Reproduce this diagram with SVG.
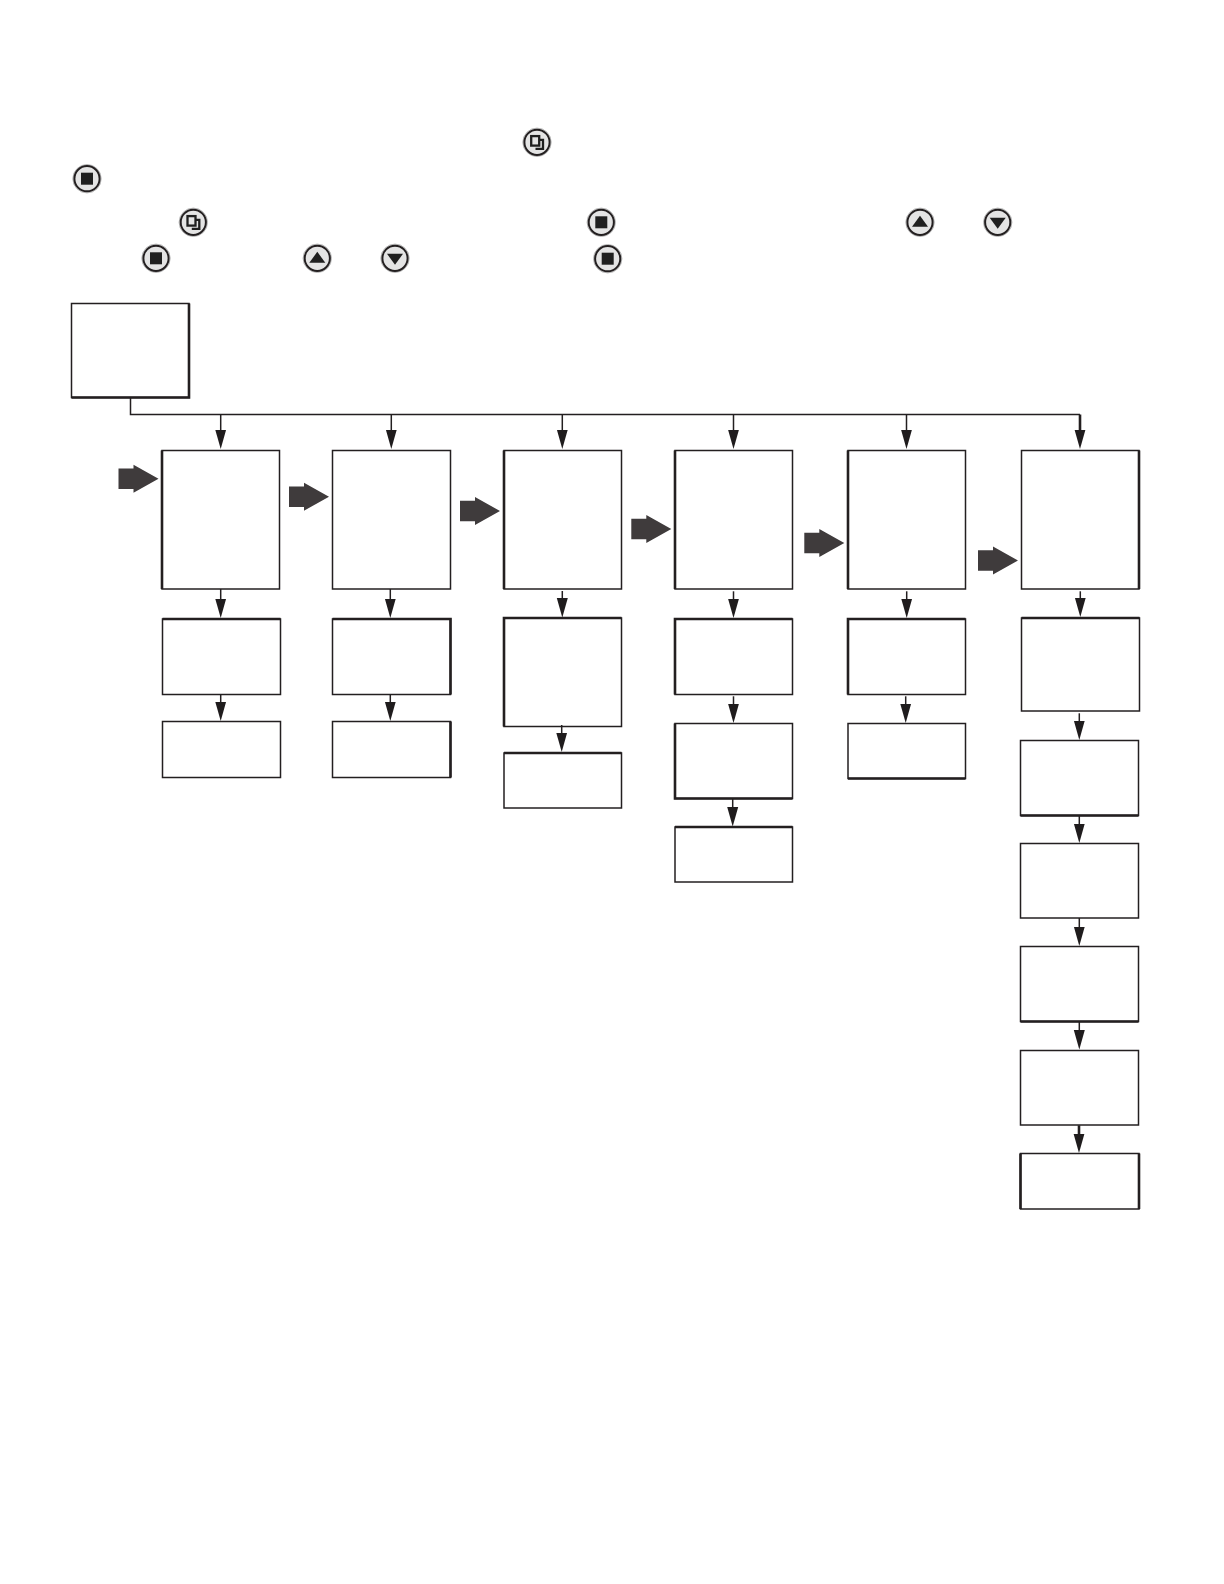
<svg xmlns="http://www.w3.org/2000/svg" xmlns:xlink="http://www.w3.org/1999/xlink" width="1224" height="1584" viewBox="0 0 1224 1584">
<style>
.box{fill:#fff;stroke:#231f20;stroke-width:1.5}
.heavy{fill:none;stroke:#231f20;stroke-width:2.6}
.wire{fill:none;stroke:#231f20;stroke-width:1.5}
.wired{fill:none;stroke:#231f20;stroke-width:1.5;marker-end:url(#head)}
.thick{stroke-width:2.6}
.step{fill:#3f3b3c}
.halo{fill:#e4e4e4;stroke:#b5b5b5;stroke-width:1}
.ring{fill:#e4e4e4;stroke:#231f20;stroke-width:2}
.glyph{fill:#1f1f1f}
.gline{fill:#e4e4e4;stroke:#1f1f1f;stroke-width:2.3}
</style>
<defs>
<marker id="head" markerUnits="userSpaceOnUse" markerWidth="20" markerHeight="12" viewBox="0 0 20 12" refX="11" refY="6" orient="auto"><path d="M0 .5L19.5 6L0 11.5Z" fill="#1f1c1d"/></marker>
<g id="btn"><circle class="halo" r="14.2"/><circle class="ring" r="12.6"/></g>
<g id="b-stop"><use xlink:href="#btn"/><rect class="glyph" x="-6" y="-6" width="12" height="12"/></g>
<g id="b-up"><use xlink:href="#btn"/><path class="glyph" d="M-8 4.5L0 -6.5L8 4.5Z"/></g>
<g id="b-down"><use xlink:href="#btn"/><path class="glyph" d="M-8 -4.5L0 6.5L8 -4.5Z"/></g>
<g id="b-copy"><use xlink:href="#btn"/><path class="gline" d="M0 -2.5H6V6.5H-1.5"/><rect class="gline" x="-5.8" y="-6.2" width="8" height="9.5"/></g>
<path id="step" class="step" d="M0 -10.3H15V-14L40 0L15 14V10.3H0Z"/>
</defs>

<g id="buttons">
<use xlink:href="#b-copy" x="537" y="142.3"/>
<use xlink:href="#b-stop" x="87" y="178.7"/>
<use xlink:href="#b-copy" x="193.3" y="222.3"/>
<use xlink:href="#b-stop" x="601.3" y="222.3"/>
<use xlink:href="#b-up" x="920" y="222.3"/>
<use xlink:href="#b-down" x="997.7" y="222.3"/>
<use xlink:href="#b-stop" x="156" y="258.3"/>
<use xlink:href="#b-up" x="317.3" y="258.3"/>
<use xlink:href="#b-down" x="395" y="258.3"/>
<use xlink:href="#b-stop" x="607.7" y="258.7"/>
</g>

<g id="start"><rect class="box" x="71.5" y="303.5" width="117.5" height="94"/><path class="heavy" d="M189 303.5V397.5H71.5"/></g>

<g id="c1-1"><rect class="box" x="162" y="450.5" width="117.5" height="138.5"/><path class="heavy" d="M162 450.5V589"/></g>
<g id="c1-2"><rect class="box" x="162.5" y="619" width="118" height="75.5"/><path class="heavy" d="M162.5 619H280.5"/></g>
<g id="c1-3"><rect class="box" x="162.5" y="721.5" width="118" height="56"/></g>

<g id="c2-1"><rect class="box" x="332.5" y="450.5" width="118" height="138.5"/></g>
<g id="c2-2"><rect class="box" x="332.5" y="619" width="118" height="75.5"/><path class="heavy" d="M332.5 619H450.5V694.5"/></g>
<g id="c2-3"><rect class="box" x="332.5" y="721.5" width="118" height="56"/><path class="heavy" d="M450.5 721.5V777.5"/></g>

<g id="c3-1"><rect class="box" x="504" y="450.5" width="117.5" height="138.5"/><path class="heavy" d="M504 450.5V589"/></g>
<g id="c3-2"><rect class="box" x="504" y="618" width="117.5" height="108.5"/><path class="heavy" d="M504 726.5V618H621.5"/></g>
<g id="c3-3"><rect class="box" x="504" y="753" width="117.5" height="55"/><path class="heavy" d="M504 753H621.5"/></g>

<g id="c4-1"><rect class="box" x="675" y="450.5" width="117.5" height="138.5"/><path class="heavy" d="M675 450.5V589"/></g>
<g id="c4-2"><rect class="box" x="675" y="619" width="117.5" height="75.5"/><path class="heavy" d="M675 694.5V619H792.5"/></g>
<g id="c4-3"><rect class="box" x="675" y="723.5" width="117.5" height="75"/><path class="heavy" d="M675 723.5V798.5H792.5"/></g>
<g id="c4-4"><rect class="box" x="675" y="827" width="117.5" height="55"/><path class="heavy" d="M675 827H792.5"/></g>

<g id="c5-1"><rect class="box" x="848" y="450.5" width="117.5" height="138.5"/><path class="heavy" d="M848 450.5V589"/></g>
<g id="c5-2"><rect class="box" x="848" y="619" width="117.5" height="75.5"/><path class="heavy" d="M848 694.5V619H965.5"/></g>
<g id="c5-3"><rect class="box" x="848" y="723.5" width="117.5" height="55"/><path class="heavy" d="M848 778.5H965.5"/></g>

<g id="c6-1"><rect class="box" x="1021.5" y="450.5" width="117.5" height="138.5"/><path class="heavy" d="M1139 450.5V589"/></g>
<g id="c6-2"><rect class="box" x="1021.5" y="618" width="118" height="93"/><path class="heavy" d="M1021.5 618H1139.5"/></g>
<g id="c6-3"><rect class="box" x="1020.5" y="740.5" width="118" height="75"/><path class="heavy" d="M1020.5 815.5H1138.5"/></g>
<g id="c6-4"><rect class="box" x="1020.5" y="843.5" width="118" height="74.5"/></g>
<g id="c6-5"><rect class="box" x="1020.5" y="946.5" width="118" height="75"/><path class="heavy" d="M1020.5 1021.5H1138.5"/></g>
<g id="c6-6"><rect class="box" x="1020.5" y="1050.5" width="118" height="74.5"/></g>
<g id="c6-7"><rect class="box" x="1020.5" y="1153.5" width="118.5" height="55.5"/><path class="heavy" d="M1020.5 1153.5V1209M1139 1153.5V1209"/></g>

<g id="connectors">
<path class="wire" d="M130.5 398V414.5H1080"/>
<path class="wired" d="M220.7 414.5V440.5"/>
<path class="wired" d="M391.3 414.5V440.5"/>
<path class="wired" d="M562.3 414.5V440.5"/>
<path class="wired" d="M733.5 414.5V440.5"/>
<path class="wired" d="M906.5 414.5V440.5"/>
<path class="wired thick" d="M1080 414.5V440.5"/>

<path class="wired" d="M220.7 589V609.5"/>
<path class="wired" d="M220.7 694.5V712.5"/>
<path class="wired" d="M390.3 589V609.5"/>
<path class="wired" d="M390.3 694.5V712.5"/>
<path class="wired" d="M562.3 591V609"/>
<path class="wired" d="M561.7 725V743.5"/>
<path class="wired" d="M733.5 591.3V609.5"/>
<path class="wired" d="M733.5 696.3V714.5"/>
<path class="wired" d="M732.7 799V818"/>
<path class="wired" d="M906.7 591.3V609.5"/>
<path class="wired" d="M905.7 696.3V714.5"/>
<path class="wired" d="M1080.3 591.3V608.5"/>
<path class="wired" d="M1079.3 713.3V731.5"/>
<path class="wired" d="M1079.3 816V834.5"/>
<path class="wired" d="M1079.3 918V937.5"/>
<path class="wired" d="M1079.3 1022V1041"/>
<path class="wired thick" d="M1079 1125.3V1144.5"/>

<use xlink:href="#step" x="118.5" y="478.7"/>
<use xlink:href="#step" x="289" y="496.7"/>
<use xlink:href="#step" x="460" y="511"/>
<use xlink:href="#step" x="631.3" y="529"/>
<use xlink:href="#step" x="804.3" y="543"/>
<use xlink:href="#step" x="978" y="560.5"/>
</g>
</svg>
